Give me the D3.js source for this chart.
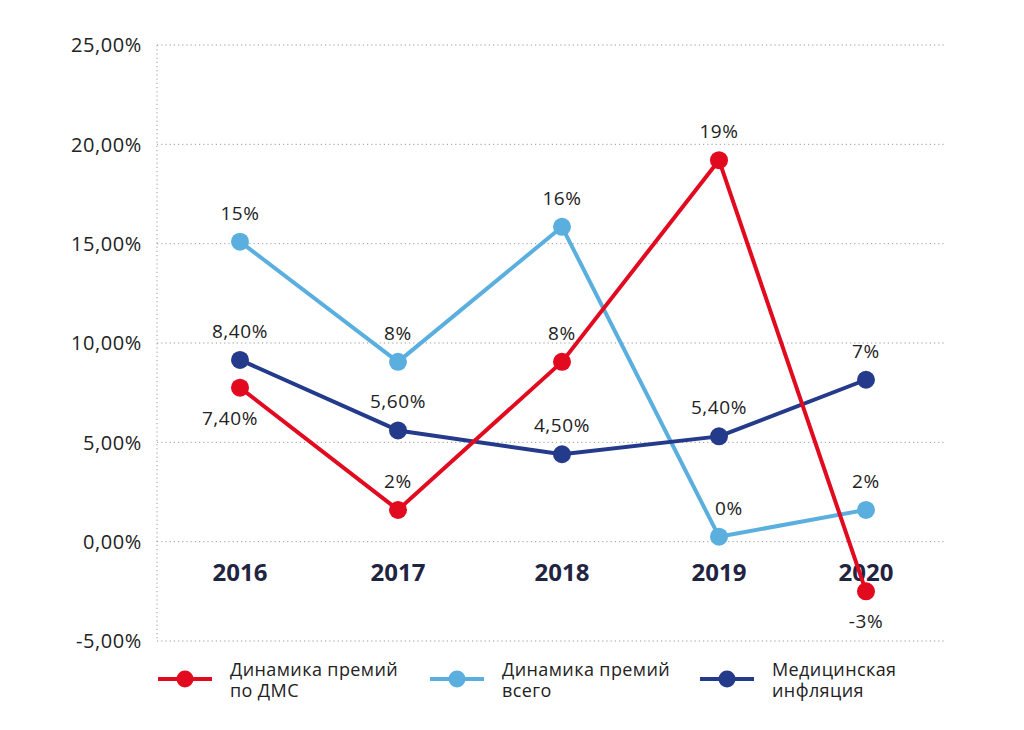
<!DOCTYPE html>
<html><head><meta charset="utf-8">
<script src="https://cdn.jsdelivr.net/npm/d3@7"></script>
<style>
body{margin:0;background:#fff;}
text{font-family:"Open Sans",sans-serif;}
</style></head>
<body><svg id="c" width="1024" height="730"></svg>
<script>
const years = ["2016","2017","2018","2019","2020"];
const dmsValues = [7.75, 1.6, 9.05, 19.2, -2.5];
const totalValues = [15.1, 9.05, 15.85, 0.25, 1.6];
const inflationValues = [9.15, 5.6, 4.4, 5.3, 8.15];
const dmsLabels = ["7,40%","2%","8%","19%","-3%"];
const totalLabels = ["15%","8%","16%","0%","2%"];
const inflationLabels = ["8,40%","5,60%","4,50%","5,40%","7%"];
const dmsLabelSide = ["below","above","above","above","below"];
const yTicks = [-5,0,5,10,15,20,25];
const yTickLabels = ["-5,00%","0,00%","5,00%","10,00%","15,00%","20,00%","25,00%"];
const legendNames = [["Динамика премий","по ДМС"],["Динамика премий","всего"],["Медицинская","инфляция"]];

const colors = ["#e10a1f","#5aafdf","#243a8b"];
const svg = d3.select("#c");
const xPos = [240,398,562,719,866];
const xs = d3.scaleOrdinal().domain(years).range(xPos);
const y = d3.scaleLinear().domain([-5,25]).range([641,45]);

// grid
const grid = svg.append("g");
yTicks.forEach((t,i)=>{
  grid.append("line").attr("x1",157).attr("x2",945).attr("y1",y(t)).attr("y2",y(t))
    .attr("stroke","#9a9a9a").attr("stroke-width",1).attr("stroke-dasharray","1.2,3");
  svg.append("text").attr("x",142).attr("y",y(t)).attr("dy","0.36em").attr("text-anchor","end")
    .attr("font-size",20).attr("letter-spacing",0.6).attr("fill","#222").attr("font-weight",400).text(yTickLabels[i]);
});
grid.append("line").attr("x1",157).attr("x2",157).attr("y1",y(25)).attr("y2",y(-5))
  .attr("stroke","#9a9a9a").attr("stroke-dasharray","1.2,3");

// year labels
years.forEach(yr=>{
  svg.append("text").attr("x",xs(yr)).attr("y",572).attr("dy","0.36em").attr("text-anchor","middle")
    .attr("font-size",24).attr("font-weight",700).attr("fill","#1f2440").text(yr);
});

const line = d3.line().x((d,i)=>xs(years[i])).y(d=>y(d));
const series = [
  {vals: dmsValues, labels: dmsLabels, color: colors[0]},
  {vals: totalValues, labels: totalLabels, color: colors[1]},
  {vals: inflationValues, labels: inflationLabels, color: colors[2]}
];
[1,2,0].forEach(k=>{
  const s = series[k];
  svg.append("path").datum(s.vals).attr("d",line).attr("fill","none")
    .attr("stroke",s.color).attr("stroke-width",4).attr("stroke-linejoin","round");
  svg.selectAll(null).data(s.vals).enter().append("circle")
    .attr("cx",(d,i)=>xs(years[i])).attr("cy",d=>y(d)).attr("r",9).attr("fill",s.color);
});
series.forEach((s,k)=>{
  s.vals.forEach((v,i)=>{
    let lx = xs(years[i]), ly = y(v) - 29;
    if (k===0 && dmsLabelSide[i]==="below"){ ly = y(v) + 30; if(i===0) lx -= 10; }
    if (k===1 && i===3) lx += 10;
    svg.append("text").attr("x",lx).attr("y",ly).attr("dy","0.36em").attr("text-anchor","middle")
      .attr("font-size",19).attr("letter-spacing",0.6).attr("fill","#222").text(s.labels[i]);
  });
});

// legend
const legX = [158,430,700];
legendNames.forEach((nm,i)=>{
  const g = svg.append("g").attr("transform",`translate(${legX[i]},679)`);
  g.append("line").attr("x1",0).attr("x2",54).attr("stroke",colors[i]).attr("stroke-width",4);
  g.append("circle").attr("cx",27).attr("r",8.5).attr("fill",colors[i]);
  g.append("text").attr("x",72).attr("y",-9).attr("dy","0.36em").attr("font-size",18).attr("letter-spacing",0.4).attr("fill","#222").text(nm[0]);
  g.append("text").attr("x",72).attr("y",12).attr("dy","0.36em").attr("font-size",18).attr("letter-spacing",0.4).attr("fill","#222").text(nm[1]);
});
</script></body></html>
